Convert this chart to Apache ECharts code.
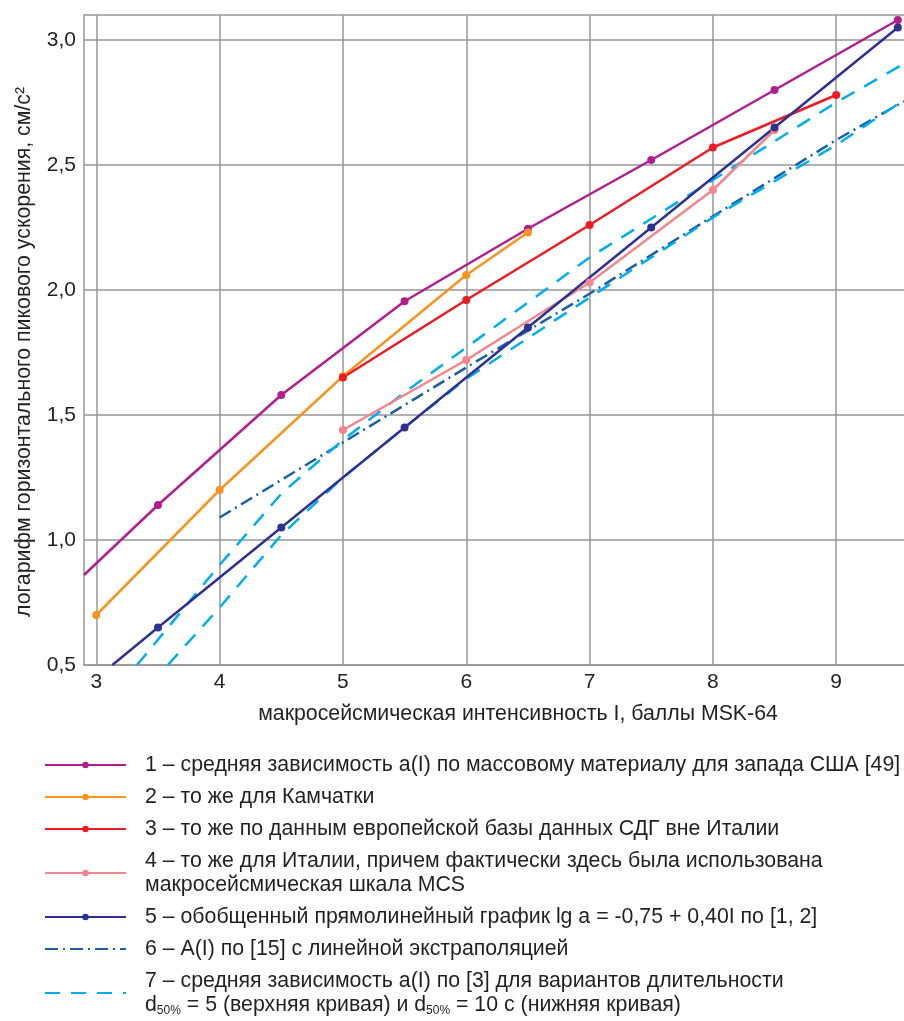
<!DOCTYPE html>
<html>
<head>
<meta charset="utf-8">
<script src="https://cdn.jsdelivr.net/npm/echarts@6/dist/echarts.min.js"></script>
<style>
    html, body { margin: 0; padding: 0; background: #fff; }
    #chart { width: 904px; height: 1021px; }
</style>
</head>
<body>
<div id="chart"></div>
<script>
// [I, lg a] pairs
let usa = [[2.9, 0.86], [3.5, 1.14], [4.5, 1.58], [5.5, 1.955], [6.5, 2.245], [7.5, 2.52], [8.5, 2.80], [9.5, 3.08]];
let kamchatka = [[3, 0.70], [4, 1.20], [5, 1.655], [6, 2.06], [6.5, 2.23]];
let europe = [[5, 1.65], [6, 1.96], [7, 2.26], [8, 2.57], [9, 2.78]];
let italy = [[5, 1.44], [6, 1.72], [7, 2.03], [8, 2.40], [8.5, 2.64]];
let general = [[3.13, 0.5], [3.5, 0.65], [4.5, 1.05], [5.5, 1.45], [6.5, 1.85], [7.5, 2.25], [8.5, 2.65], [9.5, 3.05]];
let extrap = [[4, 1.09], [5, 1.39], [6, 1.69], [7, 1.985], [8, 2.295], [9, 2.60], [9.55, 2.755]];
let d5 = [[3.33, 0.5], [4, 0.90], [4.5, 1.185], [5, 1.40], [5.5, 1.59], [6, 1.77], [7, 2.13], [8, 2.44], [9, 2.75], [9.55, 2.905]];
let d10 = [[3.58, 0.5], [4, 0.73], [4.5, 1.02], [5, 1.25], [5.5, 1.45], [6, 1.645], [7, 1.97], [8, 2.29], [9, 2.58], [9.55, 2.76]];

let xTicks = [3, 4, 5, 6, 7, 8, 9];

let names = ['1', '2', '3', '4', '5', '6', '7'];
let labels = {
    '1': '1 – средняя зависимость a(I) по массовому материалу для запада США [49]',
    '2': '2 – то же для Камчатки',
    '3': '3 – то же по данным европейской базы данных СДГ вне Италии',
    '4': '4 – то же для Италии, причем фактически здесь была использована\nмакросейсмическая шкала MCS',
    '5': '5 – обобщенный прямолинейный график lg a = -0,75 + 0,40I по [1, 2]',
    '6': '6 – A(I) по [15] с линейной экстраполяцией',
    '7': '7 – средняя зависимость a(I) по [3] для вариантов длительности\nd{s|50%} = 5 (верхняя кривая) и d{s|50%} = 10 с (нижняя кривая)'
};

let font = "'Liberation Sans', Arial, sans-serif";
let textColor = '#231f20';
let gridColor = '#979797';

function pts(arr, noMarkFirst) {
    return arr.map(function (p, i) {
        if (noMarkFirst && i === 0) return { value: p, symbol: 'none' };
        return p;
    });
}

function solid(name, color, data, noMarkFirst) {
    return {
        name: name,
        type: 'line',
        data: pts(data, noMarkFirst),
        symbol: 'circle',
        symbolSize: 8,
        lineStyle: { color: color, width: 2.5 },
        itemStyle: { color: color },
        z: 3
    };
}

function plain(name, color, data, dash) {
    return {
        name: name,
        type: 'line',
        data: data,
        symbol: 'none',
        lineStyle: { color: color, width: 2.5, type: dash },
        itemStyle: { color: color },
        z: 2
    };
}

let MyChart = echarts.init(document.getElementById('chart'));

let option = {
    animation: false,
    textStyle: { fontFamily: font },
    grid: { left: 84, top: 15, right: 0, bottom: 356 },
    xAxis: {
        type: 'value',
        min: 2.9,
        max: 9.55,
        name: 'макросейсмическая интенсивность I, баллы MSK-64',
        nameLocation: 'middle',
        nameGap: 39,
        nameTextStyle: { fontSize: 21.3, color: textColor, fontFamily: font, padding: [0, 0, 0, 48] },
        axisLine: { show: true, lineStyle: { color: gridColor, width: 1.5 } },
        axisTick: { show: false, customValues: xTicks },
        axisLabel: { fontSize: 21, color: textColor, fontFamily: font, margin: 7, customValues: xTicks },
        splitLine: { show: true, lineStyle: { color: gridColor, width: 1.5 } }
    },
    yAxis: {
        type: 'value',
        min: 0.5,
        max: 3.1,
        interval: 0.5,
        name: 'логарифм горизонтального пикового ускорения, см/с²',
        nameLocation: 'middle',
        nameGap: 49,
        nameTextStyle: { fontSize: 21.3, color: textColor, fontFamily: font, padding: [0, 24, 0, 0] },
        axisLine: { show: true, lineStyle: { color: gridColor, width: 1.5 } },
        axisTick: { show: false },
        axisLabel: {
            fontSize: 21, color: textColor, fontFamily: font, margin: 8,
            formatter: function (v) {
                if (Math.abs(v * 2 - Math.round(v * 2)) > 1e-6) return '';
                return v.toFixed(1).replace('.', ',');
            }
        },
        splitLine: { show: true, lineStyle: { color: gridColor, width: 1.5 } }
    },
    legend: {
        orient: 'vertical',
        left: 44,
        top: 753,
        height: 500,
        padding: 0,
        itemWidth: 81,
        itemHeight: 8,
        itemGap: 8,
        selectedMode: false,
        data: names.map(function (n) {
            if (n === '6' || n === '7') return { name: n, itemStyle: { opacity: 0 } };
            return { name: n };
        }),
        formatter: function (n) { return labels[n]; },
        textStyle: {
            fontSize: 21.3,
            lineHeight: 24,
            color: textColor,
            fontFamily: font,
            padding: [0, 0, 0, 14],
            rich: {
                s: { fontSize: 12, lineHeight: 24, verticalAlign: 'bottom', color: textColor, fontFamily: font }
            }
        }
    },
    series: [
        solid('1', '#b01f8d', usa, true),
        solid('2', '#f7941d', kamchatka, false),
        solid('3', '#ed1c24', europe, false),
        solid('4', '#f3868c', italy, false),
        plain('6', '#1a5ea8', extrap, [13, 5, 2, 5]),
        plain('7', '#00aeef', d5, [15, 11]),
        plain('7', '#00aeef', d10, [15, 11]),
        solid('5', '#2e3192', general, true)
    ]
};

MyChart.setOption(option);
</script>
</body>
</html>
